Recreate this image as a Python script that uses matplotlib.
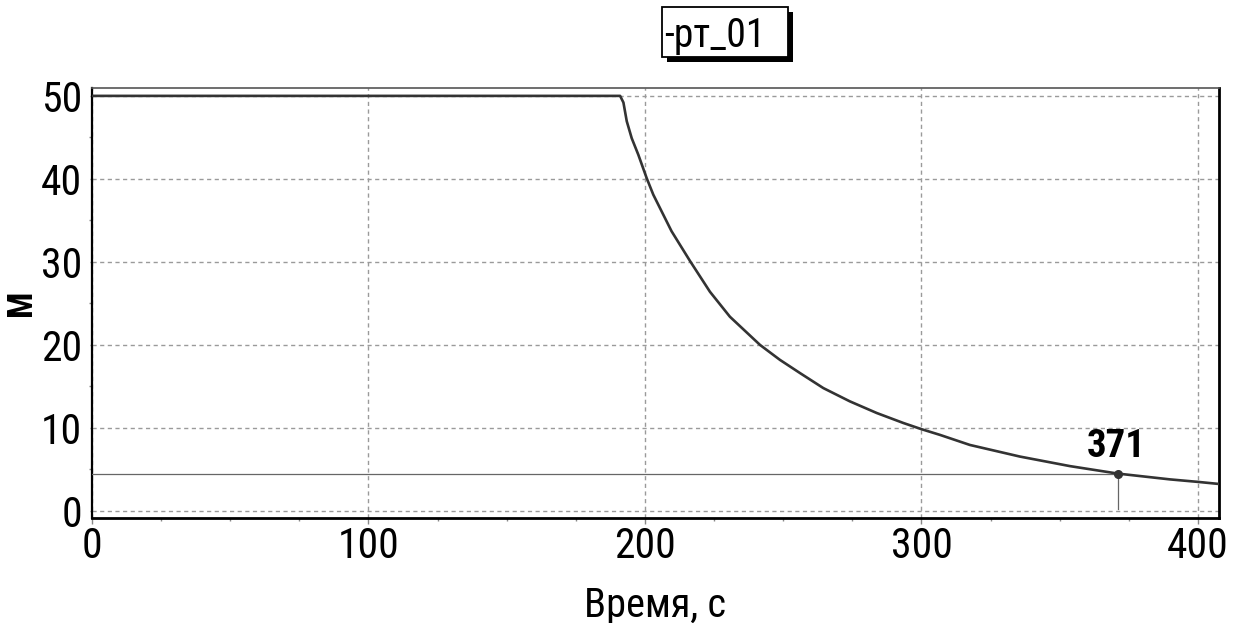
import matplotlib
matplotlib.use("Agg")
import matplotlib.pyplot as plt
from matplotlib import font_manager
from matplotlib.patches import Rectangle
from matplotlib.ticker import MultipleLocator, FixedLocator

# ---- data ----
time_s = [0, 191, 192.2, 193.4, 195.2, 197.6, 200.6, 203, 206.6, 209.6, 216.3,
          223.5, 230.7, 241.6, 248.8, 256.1, 264.5, 274.1, 283.8, 293.4, 300,
          306.7, 317.5, 335.6, 353.7, 371, 389.9, 400, 407.6]
level_m = [50, 50, 49.2, 46.95, 44.9, 42.9, 40.1, 38.1, 35.7, 33.7, 30.1,
           26.4, 23.4, 20, 18.2, 16.6, 14.8, 13.2, 11.8, 10.6, 9.85,
           9.16, 7.95, 6.55, 5.4, 4.5, 3.8, 3.5, 3.25]
marker_t = 371
marker_y = 4.5
marker_label = "371"
x_ticks = [0, 100, 200, 300, 400]
y_ticks = [0, 10, 20, 30, 40, 50]
series_name = "-рт_01"
x_label = "Время, с"
y_label = "М"

# ---- font: a narrow Arial-like face with Cyrillic ----
names = {f.name for f in font_manager.fontManager.ttflist}
if "Roboto Condensed" in names:
    FONT, k = "Roboto Condensed", 1.0
elif "Liberation Sans Narrow" in names:
    FONT, k = "Liberation Sans Narrow", 1.0
else:
    FONT, k = "Liberation Sans", 0.88
plt.rcParams["font.family"] = [FONT, "DejaVu Sans"]

W, H = 1243, 623
fig = plt.figure(figsize=(W / 100, H / 100), dpi=100)
fig.patch.set_facecolor("white")

L, R, T, B = 92, 1219, 88, 518
ax = fig.add_axes([L / W, 1 - B / H, (R - L) / W, (B - T) / H])

ax.plot(time_s, level_m, color="#333333", lw=1.9, zorder=4, solid_joinstyle="round")

ax.plot([0, marker_t], [marker_y, marker_y], color="#666666", lw=0.9, zorder=3)
ax.plot([marker_t, marker_t], [marker_y, 0.2], color="#666666", lw=0.9, zorder=3)
ax.plot([marker_t], [marker_y], "o", color="#333333", ms=5.5, zorder=5)
ax.annotate(marker_label, (marker_t, marker_y), xytext=(-1, 6), textcoords="offset points",
            ha="center", va="bottom", fontsize=28 * k, fontweight="bold", color="black",
            zorder=6)

ax.set_xlim(0, 407.6)
ax.set_ylim(-0.85, 50.95)
ax.xaxis.set_major_locator(FixedLocator(x_ticks))
ax.yaxis.set_major_locator(FixedLocator(y_ticks))
ax.xaxis.set_minor_locator(MultipleLocator(25))
ax.yaxis.set_minor_locator(MultipleLocator(5))

ax.grid(True, which="major", color="#9a9a9a", lw=1.0, linestyle=(0, (3, 2.5)), zorder=1)
ax.set_axisbelow(True)

ax.tick_params(axis="x", which="major", direction="out", length=4, width=1,
               color="#888888", pad=2, labelsize=30 * k)
ax.tick_params(axis="y", which="major", direction="out", length=1.5, width=1,
               color="#888888", pad=5.5, labelsize=30 * k)
ax.tick_params(which="minor", direction="out", length=2, width=1, color="#888888")

for side in ("left", "bottom", "right"):
    ax.spines[side].set_color("black")
ax.spines["left"].set_linewidth(1.6)
ax.spines["bottom"].set_linewidth(2.0)
ax.spines["right"].set_linewidth(2.0)
ax.spines["top"].set_color("#555555")
ax.spines["top"].set_linewidth(1.2)

ax.set_xlabel(x_label, fontsize=29 * k, va="baseline")
ax.xaxis.set_label_coords(0.5, (B - 617) / (B - T))
ax.set_ylabel(y_label, fontsize=25 * k, fontweight="bold", va="center", ha="center")
ax.yaxis.set_label_coords((21.7 - L) / (R - L), 0.5)

# legend-like title box with shadow
bx0, bx1, by0, by1 = 662, 788, 7, 57
off = 5
fig.patches.append(Rectangle(((bx0 + off) / W, 1 - (by1 + off) / H), (bx1 - bx0) / W,
                             (by1 - by0) / H, transform=fig.transFigure,
                             facecolor="black", edgecolor="black", lw=0))
fig.patches.append(Rectangle((bx0 / W, 1 - by1 / H), (bx1 - bx0) / W, (by1 - by0) / H,
                             transform=fig.transFigure, facecolor="white",
                             edgecolor="black", lw=1.3))
fig.text(664 / W, 1 - 47 / H, series_name, ha="left", va="baseline",
         fontsize=28.5 * k, color="black")

fig.savefig("out.png", dpi=100)
